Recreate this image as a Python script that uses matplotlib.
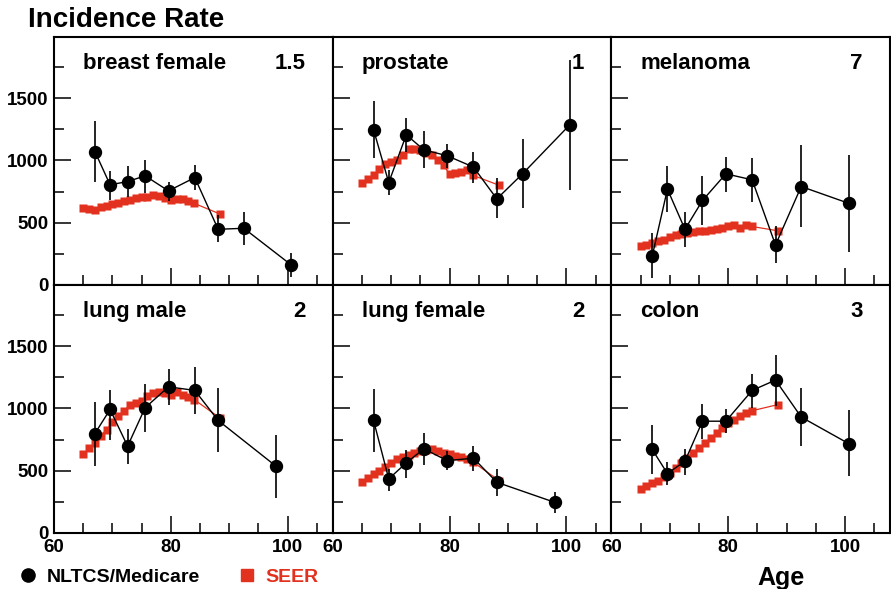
import matplotlib
matplotlib.use('Agg')
from matplotlib import pyplot as plt
from matplotlib.lines import Line2D
from matplotlib.ticker import MultipleLocator

plt.rcParams['font.family'] = 'Liberation Sans'
plt.rcParams['font.weight'] = 'bold'

RED = '#e2321f'

names = ['breast female', 'prostate', 'melanoma', 'lung male', 'lung female', 'colon']
factors = ['1.5', '1', '7', '2', '2', '3']

# NLTCS/Medicare age groups
ages_nltcs = [67.0, 69.6, 72.6, 75.6, 79.6, 84.1, 88.1, 92.5, 100.6]
ages_nltcs_lung = [67.0, 69.6, 72.6, 75.6, 79.6, 84.1, 88.1, 98.0]

breast = [1071, 804, 830, 876, 755, 862, 447, 455, 161]
breast_lo = [830, 683, 710, 737, 670, 763, 348, 321, 67]
breast_hi = [1312, 911, 951, 1005, 830, 964, 563, 589, 254]

prostate = [1246, 822, 1205, 1085, 1037, 946, 691, 892, 1286]
prostate_lo = [1018, 723, 1071, 938, 938, 817, 536, 616, 763]
prostate_hi = [1473, 924, 1339, 1232, 1133, 1071, 857, 1173, 1808]

melanoma = [233, 769, 447, 678, 892, 844, 321, 790, 656]
melanoma_lo = [54, 589, 308, 482, 745, 662, 174, 463, 268]
melanoma_hi = [415, 951, 589, 871, 1031, 1018, 477, 1120, 1045]

lung_m = [798, 991, 697, 1005, 1173, 1144, 903, 536]
lung_m_lo = [536, 750, 557, 809, 1031, 951, 651, 281]
lung_m_hi = [1053, 1147, 836, 1197, 1313, 1331, 1160, 790]

lung_f = [903, 434, 563, 675, 581, 600, 407, 246]
lung_f_lo = [648, 335, 442, 549, 504, 501, 300, 161]
lung_f_hi = [1152, 517, 662, 804, 656, 702, 514, 329]

colon = [670, 477, 576, 897, 897, 1144, 1227, 930, 718]
colon_lo = [474, 388, 469, 755, 804, 1005, 1018, 696, 455]
colon_hi = [865, 568, 675, 1039, 991, 1278, 1425, 1165, 983]

# SEER, single years 65-84 plus the 85+ group
ages_seer = [65, 66, 67, 68, 69, 70, 71, 72, 73, 74,
             75, 76, 77, 78, 79, 80, 81, 82, 83, 84, 88.5]
seer_breast = [618, 610, 605, 625, 635, 650, 660, 675, 685, 695,
               705, 710, 720, 715, 700, 680, 690, 690, 675, 655, 568]
seer_prostate = [820, 850, 880, 930, 970, 990, 1000, 1040, 1090, 1090,
                 1080, 1060, 1040, 1000, 960, 890, 895, 905, 920, 880, 800]
seer_melanoma = [310, 320, 335, 350, 365, 385, 400, 410, 420, 425,
                 430, 435, 440, 450, 460, 470, 480, 460, 485, 470, 435]
seer_lung_m = [630, 680, 720, 780, 830, 890, 940, 980, 1030, 1040,
               1060, 1100, 1120, 1130, 1120, 1110, 1130, 1110, 1090, 1070, 920]
seer_lung_f = [410, 440, 470, 500, 530, 560, 590, 610, 625, 640,
               655, 665, 670, 655, 640, 630, 620, 610, 595, 570, 420]
seer_colon = [350, 375, 400, 420, 450, 480, 520, 560, 600, 640,
              680, 720, 760, 800, 840, 880, 910, 940, 960, 980, 1030]

panels = [
    (ages_nltcs, breast, breast_lo, breast_hi, seer_breast),
    (ages_nltcs, prostate, prostate_lo, prostate_hi, seer_prostate),
    (ages_nltcs, melanoma, melanoma_lo, melanoma_hi, seer_melanoma),
    (ages_nltcs_lung, lung_m, lung_m_lo, lung_m_hi, seer_lung_m),
    (ages_nltcs_lung, lung_f, lung_f_lo, lung_f_hi, seer_lung_f),
    (ages_nltcs, colon, colon_lo, colon_hi, seer_colon),
]

fig, axes = plt.subplots(2, 3, figsize=(8.91, 5.89), dpi=100)
fig.subplots_adjust(left=0.0606, right=0.9989, top=0.9372, bottom=0.0951,
                    wspace=0, hspace=0)

for i, ax in enumerate(axes.flat):
    x, y, lo, hi, seer = panels[i]
    err = [[v - l for v, l in zip(y, lo)], [h - v for v, h in zip(y, hi)]]
    ax.plot(ages_seer, seer, color=RED, lw=0.9, marker='s', ms=5.2,
            mec='none', zorder=2)
    ax.errorbar(x, y, yerr=err, color='black', lw=1.0, marker='o', ms=8.6,
                elinewidth=1.2, capsize=0, zorder=3)

    ax.set_xlim(60, 107.7)
    ax.set_ylim(0, 1990)
    ax.xaxis.set_major_locator(MultipleLocator(20))
    ax.xaxis.set_minor_locator(MultipleLocator(5))
    ax.set_yticks([0, 500, 1000, 1500])
    ax.yaxis.set_minor_locator(MultipleLocator(250))
    ax.tick_params(which='both', direction='in', top=False, right=False,
                   width=1.1, labelsize=13.5, pad=4)
    ax.tick_params(which='major', length=12)
    ax.tick_params(which='minor', length=7)
    for s in ax.spines.values():
        s.set_linewidth(1.5)
    if i % 3 != 0:
        ax.tick_params(labelleft=False)
    if i < 3:
        ax.tick_params(labelbottom=False)

    ax.text(0.105, 0.87, names[i], transform=ax.transAxes, fontsize=16,
            ha='left', va='baseline')
    ax.text(0.903, 0.87, factors[i], transform=ax.transAxes, fontsize=16,
            ha='right', va='baseline')

fig.text(0.0314, 0.954, 'Incidence Rate', fontsize=20, ha='left', va='baseline')
fig.text(0.877, 0.0068, 'Age', fontsize=18, ha='center', va='baseline')

h_nltcs = Line2D([], [], color='black', marker='o', ls='none', ms=9.5)
h_seer = Line2D([], [], color=RED, marker='s', ls='none', ms=8.5)
leg_kw = dict(loc='center left', frameon=False, fontsize=14, borderpad=0,
              borderaxespad=0, handlelength=1.0, handletextpad=0.46)
fig.legend([h_nltcs], ['NLTCS/Medicare'], bbox_to_anchor=(0.0205, 0.0204), **leg_kw)
fig.legend([h_seer], ['SEER'], bbox_to_anchor=(0.266, 0.0204),
           labelcolor=RED, **leg_kw)

fig.savefig('out.png', dpi=100)
